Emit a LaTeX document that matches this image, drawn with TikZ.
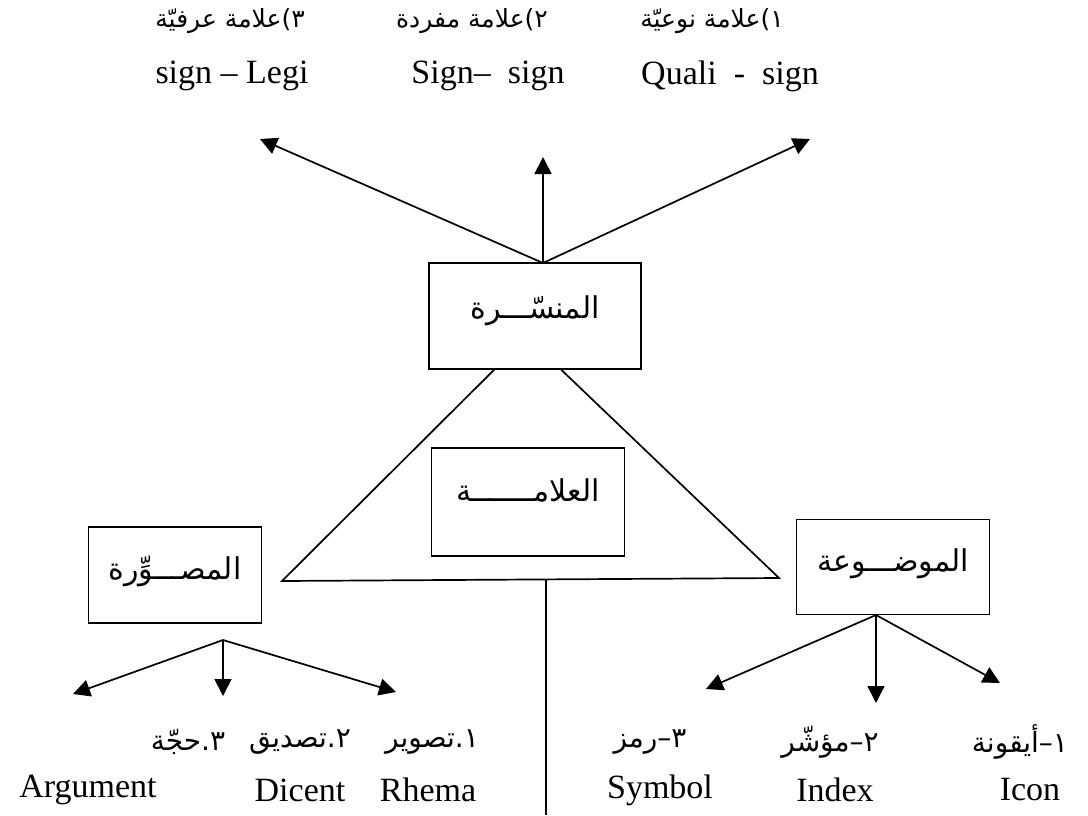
\documentclass[tikz,border=0pt]{standalone}
\usepackage{fontspec}
\setmainfont{Liberation Serif}
\newfontfamily\arabicfont[Script=Arabic]{DejaVu Sans}
\TeXXeTstate=1
\usetikzlibrary{arrows.meta}
\begin{document}
\begin{tikzpicture}[x=1pt,y=-1pt,
  en/.style={font=\fontsize{34}{40}\selectfont, inner sep=0pt},
  ar/.style={font=\arabicfont\fontsize{28}{34}\selectfont, inner sep=0pt},
  artop/.style={font=\arabicfont\fontsize{25}{30}\selectfont, inner sep=0pt},
  box/.style={draw, line width=1.7pt, fill=white, inner sep=0pt, font=\arabicfont\fontsize{30}{36}\selectfont},
  arr/.style={line width=1.7pt, -{Triangle[length=17pt,width=17pt]}},
  ln/.style={line width=1.7pt}]
\useasboundingbox (0,0) rectangle (1088,815);

% top labels
\node[artop] (r3) at (230,21) {\beginR ٣)علامة عرفيّة\endR};
\node[artop] (r2) at (472,21) {\beginR ٢)علامة مفردة\endR};
\node[artop] (r1) at (712,21) {\beginR ١)علامة نوعيّة\endR};
\node[en] (e3) at (232,76) {sign -- Legi};
\node[en] (e2) at (488,76) {Sign--\ \ sign};
\node[en] (e1) at (730,76) {Quali\ \ -\ \ sign};

% triangle
\coordinate (tA) at (282,581);
\coordinate (tB) at (527,337);
\coordinate (tC) at (779,578);
\draw[ln, line join=miter] (tA) -- (tB) -- (tC) -- cycle;
\coordinate (stem) at (546,580);
\coordinate (stemEnd) at (546,815);
\draw[ln] (stem) -- (stemEnd);

% boxes
\node[box, minimum width=212pt, minimum height=106pt, text depth=18pt] (mun) at (535,316) {\beginR المنسّـــرة\endR};
\node[box, minimum width=193pt, minimum height=108pt, text depth=24pt] (ala) at (528,502) {\beginR العلامـــــــة\endR};
\node[box, minimum width=173pt, minimum height=96pt, text depth=14pt] (mus) at (175,575) {\beginR المصـــوِّرة\endR};
\node[box, minimum width=193pt, minimum height=95pt, text depth=14pt] (mawd) at (893,567) {\beginR الموضـــوعة\endR};

% top arrows
\coordinate (apex) at (543,263);
\coordinate (tipL) at (260,139);
\coordinate (tipM) at (543,157);
\coordinate (tipR) at (810,139);
\draw[arr] (apex) -- (tipL);
\draw[arr] (apex) -- (tipM);
\draw[arr] (apex) -- (tipR);

% left arrows
\coordinate (lo) at (223,640);
\coordinate (l1) at (73,694);
\coordinate (l2) at (223,696);
\coordinate (l3) at (396,692);
\draw[arr] (lo) -- (l1);
\draw[arr] (lo) -- (l2);
\draw[arr] (lo) -- (l3);

% right arrows
\coordinate (ro) at (876,615);
\coordinate (q1) at (706,689);
\coordinate (q2) at (876,703);
\coordinate (q3) at (1000,683);
\draw[arr] (ro) -- (q1);
\draw[arr] (ro) -- (q2);
\draw[arr] (ro) -- (q3);

% bottom left labels
\node[ar] (b3) at (188,742) {\beginR ٣.حجّة\endR};
\node[ar] (b2) at (300,742) {\beginR ٢.تصديق\endR};
\node[ar] (b1) at (432,742) {\beginR ١.تصوير\endR};
\node[en] (g3) at (88,790) {Argument};
\node[en] (g2) at (300,790) {Dicent};
\node[en] (g1) at (428,790) {Rhema};

% bottom right labels
\node[ar] (c3) at (650,742) {\beginR ٣–رمز\endR};
\node[ar] (c2) at (830,742) {\beginR ٢–مؤشّر\endR};
\node[ar] (c1) at (1020,742) {\beginR ١–أيقونة\endR};
\node[en] (s3) at (660,790) {Symbol};
\node[en] (s2) at (835,790) {Index};
\node[en] (s1) at (1030,790) {Icon};
\end{tikzpicture}
\end{document}
